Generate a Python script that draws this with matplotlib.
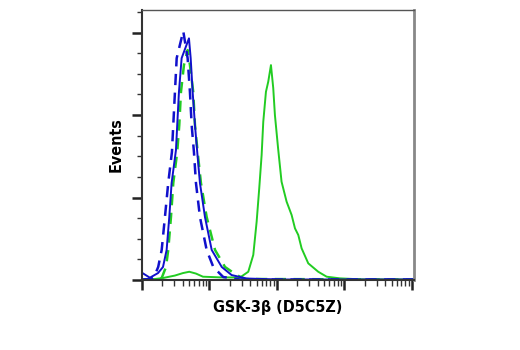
import matplotlib
matplotlib.use("Agg")
import matplotlib.pyplot as plt
from matplotlib.ticker import MultipleLocator, LogLocator, NullFormatter

plt.rcParams['font.family'] = ['DejaVu Sans']
plt.rcParams['font.stretch'] = 'condensed'

# Fluorescence intensity (log axis) and event counts for each histogram
blue_solid_x = [1.00, 1.31, 1.73, 2.05, 2.32, 2.54, 2.75, 3.19, 3.33, 3.53,
                3.87, 4.97, 5.27, 5.64, 6.10, 6.59, 7.23, 8.58, 10.8, 15.2,
                21.3, 35.6, 111, 10700]
blue_solid_y = [4.4, 1.4, 4.2, 7.9, 18.2, 38.2, 58.8, 78.8, 93.9, 113.9,
                134.5, 146.5, 134.5, 113.9, 93.9, 77.6, 58.8, 38.2, 18.2, 7.9,
                3.0, 0.9, 0.3, 0.3]

blue_dash_x = [1.00, 1.31, 1.51, 1.74, 1.96, 2.19, 2.45, 2.78, 2.91, 3.08,
               3.27, 4.09, 4.75, 5.14, 5.45, 5.89, 6.31, 7.23, 9.09, 11.4,
               16.0, 28.3, 10700]
blue_dash_y = [0.3, 0.6, 1.8, 7.9, 18.2, 38.2, 58.8, 77.6, 93.9, 113.9,
               134.5, 150.9, 134.5, 113.9, 93.9, 77.6, 58.8, 38.2, 18.2, 7.9,
               1.8, 0.3, 0.3]

green_dash_x = [1.00, 1.56, 1.96, 2.27, 2.45, 2.69, 2.91, 3.33, 3.57, 3.78,
                4.19, 4.75, 5.14, 5.75, 6.10, 6.68, 7.48, 9.09, 12.1, 17.0,
                25.3, 33.6, 10700]
green_dash_y = [0.3, 0.3, 1.2, 7.9, 18.2, 38.2, 58.8, 77.6, 93.9, 113.9,
                130.3, 139.4, 130.3, 113.9, 93.9, 77.6, 58.8, 38.2, 18.2, 7.9,
                3.0, 0.6, 0.3]

green_solid_x = [1.00, 1.56, 2.05, 3.08, 4.05, 5.02, 6.31, 8.01, 14.3, 28.3,
                 37.6, 44.6, 50.0, 54.7, 59.3, 62.7, 68.7, 74.3, 81.5,
                 88.1, 93.3, 104, 117, 139, 165, 185, 207, 232, 291,
                 409, 545, 857, 1700, 10700]
green_solid_y = [0.3, 0.6, 1.2, 2.7, 4.2, 5.0, 3.9, 2.0, 1.6, 1.5,
                 5.0, 15.2, 35.3, 55.8, 75.8, 95.9, 114.1, 120.2, 130.3,
                 116.4, 100.0, 79.8, 59.6, 47.5, 39.4, 31.3, 27.3, 19.2, 10.1,
                 5.0, 2.0, 1.0, 0.4, 0.3]

x_label = "GSK-3β (D5C5Z)"
y_label = "Events"

BLUE = "#1010cc"
GREEN = "#22cc22"

fig = plt.figure(figsize=(5.2, 3.5), dpi=100)
ax = fig.add_axes([0.273, 0.2, 0.523, 0.771])

line_kw = dict(solid_joinstyle='round', dash_joinstyle='round')
ax.plot(green_solid_x, green_solid_y, color=GREEN, lw=1.4, **line_kw)
ax.plot(green_dash_x, green_dash_y, color=GREEN, lw=1.8, dashes=(4.5, 3), **line_kw)
ax.plot(blue_solid_x, blue_solid_y, color=BLUE, lw=1.4, **line_kw)
ax.plot(blue_dash_x, blue_dash_y, color=BLUE, lw=1.8, dashes=(4.5, 3), **line_kw)

ax.set_xscale('log')
ax.set_xlim(1, 10700)
ax.set_ylim(0, 163.6)

ax.xaxis.set_major_locator(LogLocator(base=10, numticks=10))
ax.xaxis.set_minor_locator(LogLocator(base=10, subs=range(2, 10), numticks=10))
ax.xaxis.set_major_formatter(NullFormatter())
ax.xaxis.set_minor_formatter(NullFormatter())
ax.yaxis.set_major_locator(MultipleLocator(50))
ax.yaxis.set_minor_locator(MultipleLocator(12.5))
ax.yaxis.set_major_formatter(NullFormatter())

ax.tick_params(which='major', direction='out', length=7, width=1.8, color='#222222')
ax.tick_params(which='minor', direction='out', length=3.5, width=1.0, color='#333333')
ax.tick_params(axis='x', which='minor', length=4)

for side in ('left', 'bottom'):
    ax.spines[side].set_color('#333333')
    ax.spines[side].set_linewidth(1.5)
ax.spines['top'].set_color('#555555')
ax.spines['top'].set_linewidth(1.0)
ax.spines['right'].set_color('#888888')
ax.spines['right'].set_linewidth(2.0)

ax.set_xlabel(x_label, fontsize=11.5, fontweight='bold', labelpad=4)
ax.set_ylabel(y_label, fontsize=11.5, fontweight='bold', labelpad=3)

fig.savefig("out.png", dpi=100)
